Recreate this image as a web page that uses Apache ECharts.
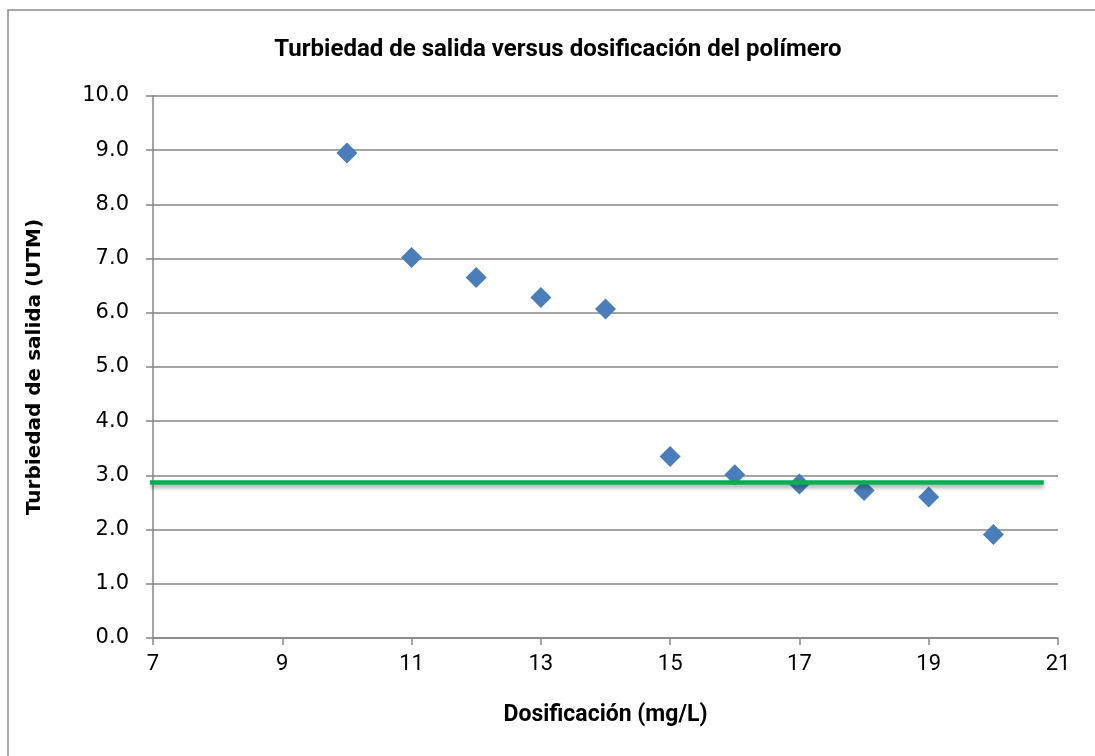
<!DOCTYPE html>
<html>
<head>
<meta charset="utf-8">
<script src="https://cdn.jsdelivr.net/npm/echarts@6/dist/echarts.min.js"></script>
<style>
  html, body { margin: 0; padding: 0; background: #fff; }
</style>
</head>
<body>
<div id="echarts" style="width: 1095px; height: 756px"></div>
<script>
// datos
let dosificacion = [10, 11, 12, 13, 14, 15, 16, 17, 18, 19, 20]
let turbiedad = [8.95, 7.02, 6.65, 6.28, 6.07, 3.35, 3.01, 2.84, 2.72, 2.60, 1.91]
// linea verde de referencia
let limiteX = [6.95, 20.78]
let limiteY = 2.87

let titulo = 'Turbiedad de salida versus dosificación del polímero'
let nombreX = 'Dosificación (mg/L)'
let nombreY = 'Turbiedad de salida (UTM)'

let narrow = "'Liberation Sans Narrow', Roboto, sans-serif"

let puntos = []
for (let i = 0; i < dosificacion.length; i++) {
  puntos.push([dosificacion[i], turbiedad[i]])
}
let linea = limiteX.map(x => [x, limiteY])

let myChart = echarts.init(document.getElementById('echarts'))

let option = {
  animation: false,
  backgroundColor: '#fff',
  title: {
    text: titulo,
    left: 553,
    textAlign: 'center',
    top: 33,
    textStyle: {
      fontFamily: narrow,
      fontWeight: 'bold',
      fontSize: 24,
      color: '#000'
    }
  },
  graphic: [
    {
      type: 'rect',
      shape: { x: 8, y: 10, width: 1200, height: 900 },
      style: { fill: 'none', stroke: '#8c8c8c', lineWidth: 1.5 },
      silent: true
    }
  ],
  grid: {
    left: 153,
    right: 37,
    top: 96,
    bottom: 118
  },
  xAxis: {
    type: 'value',
    min: 7,
    max: 21,
    interval: 2,
    name: nombreX,
    nameLocation: 'middle',
    nameGap: 66,
    nameTextStyle: {
      fontFamily: narrow,
      fontWeight: 'bold',
      fontSize: 23,
      color: '#000'
    },
    splitLine: { show: false },
    axisLine: { lineStyle: { color: '#868686', width: 1.5 } },
    axisTick: { show: true, inside: false, length: 7, lineStyle: { color: '#868686', width: 1.5 } },
    axisLabel: {
      margin: 15,
      fontFamily: narrow,
      fontSize: 22,
      color: '#000'
    }
  },
  yAxis: {
    type: 'value',
    min: 0,
    max: 10,
    interval: 1,
    name: nombreY,
    nameLocation: 'middle',
    nameGap: 108,
    nameTextStyle: {
      fontFamily: "'DejaVu Sans', sans-serif",
      fontWeight: 'bold',
      fontSize: 20,
      color: '#000'
    },
    axisLine: { show: true, lineStyle: { color: '#868686', width: 1.5 } },
    axisTick: { show: true, inside: false, length: 7, lineStyle: { color: '#868686', width: 1.5 } },
    splitLine: { lineStyle: { color: '#868686', width: 1.5 } },
    axisLabel: {
      margin: 24,
      fontFamily: "'DejaVu Sans', sans-serif",
      fontSize: 21,
      color: '#000',
      formatter: v => v.toFixed(1)
    }
  },
  series: [
    {
      name: 'turbiedad',
      type: 'scatter',
      symbol: 'diamond',
      symbolSize: 21,
      itemStyle: { color: '#4a7ebb', opacity: 1 },
      data: puntos,
      z: 2
    },
    {
      name: 'limite',
      type: 'line',
      showSymbol: false,
      symbol: 'none',
      data: linea,
      lineStyle: {
        color: '#00b050',
        width: 4.5,
        shadowColor: 'rgba(0,0,0,0.35)',
        shadowBlur: 4,
        shadowOffsetY: 3
      },
      z: 3
    }
  ]
}

myChart.setOption(option)
</script>
</body>
</html>
